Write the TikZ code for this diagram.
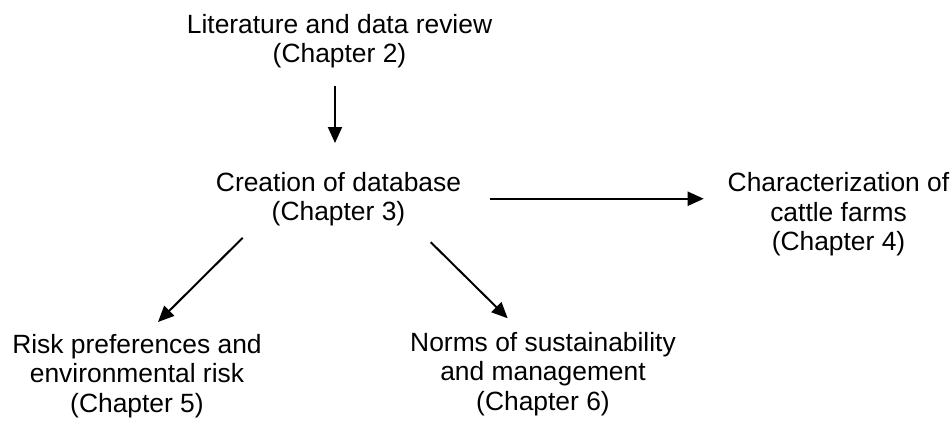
\documentclass[tikz,border=0pt]{standalone}
\usepackage{fontspec}
\setmainfont{Liberation Sans}
\usetikzlibrary{arrows.meta}
\begin{document}
\begin{tikzpicture}[x=1pt,y=-1pt,
  label/.style={anchor=north,align=center,inner sep=0pt,outer sep=0pt,
    font=\fontsize{26.4}{29.5}\selectfont},
  arr/.style={line width=2pt,-{Triangle[length=16pt,width=14pt]}}]
  \useasboundingbox (0,0) rectangle (952,426);
  % first line carries a strut so every node top sits 19.5pt above its first baseline
  \newcommand{\firstline}{\rule{0pt}{19.5pt}}
  \node[label] (lit)   at (339.5,13.5)  {\firstline Literature and data review\\(Chapter 2)};
  \node[label] (db)    at (338.5,171.5) {\firstline Creation of database\\(Chapter 3)};
  \node[label] (char)  at (838.5,172.2) {\firstline Characterization of\\cattle farms\\(Chapter 4)};
  \node[label] (risk)  at (137,333.5)   {\firstline Risk preferences and\\environmental risk\\(Chapter 5)};
  \node[label] (norms) at (543,331.5)   {\firstline Norms of sustainability\\and management\\(Chapter 6)};
  % connectors
  \draw[arr] ([xshift=-4.5pt,yshift=-18.5pt]lit.south) -- ([xshift=-3.5pt,yshift=28.5pt]db.north);
  \draw[arr,shorten <=29pt,shorten >=24pt] (db.east) -- (db.east -| char.west);
  \draw[arr] ([xshift=-95.8pt,yshift=-11.8pt]db.south) -- ([xshift=21pt,yshift=11.5pt]risk.north);
  \draw[arr] ([xshift=92.2pt,yshift=-16.2pt]db.south) -- ([xshift=-35.3pt,yshift=13.2pt]norms.north);
\end{tikzpicture}
\end{document}
